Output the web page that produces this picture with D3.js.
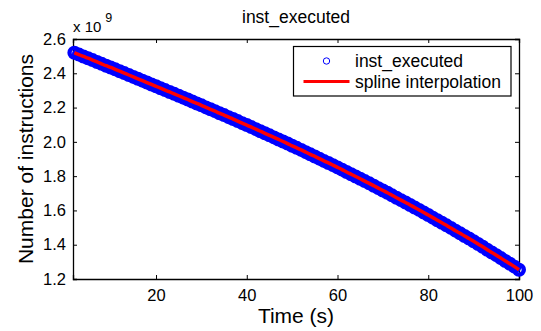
<!DOCTYPE html>
<html>
<head>
<meta charset="utf-8">
<script src="https://cdn.jsdelivr.net/npm/d3@7"></script>
<style>
  body { margin: 0; background: #fff; }
  text { font-family: "Liberation Sans", Arial, sans-serif; fill: #000; }
  .axis path, .axis line { stroke: #000; }
</style>
</head>
<body>
<svg id="chart" width="541" height="331"></svg>
<script>
// time in seconds, 2..100
const times = d3.range(2, 101);
// instructions executed (x 10^9)
const instExecuted = [
  2.520, 2.509, 2.498, 2.488, 2.477, 2.466, 2.455, 2.444, 2.434, 2.423,
  2.412, 2.401, 2.390, 2.379, 2.368, 2.357, 2.346, 2.335, 2.324, 2.313,
  2.302, 2.291, 2.280, 2.269, 2.258, 2.247, 2.235, 2.224, 2.213, 2.201,
  2.190, 2.179, 2.167, 2.156, 2.144, 2.133, 2.121, 2.109, 2.098, 2.086,
  2.074, 2.062, 2.050, 2.038, 2.026, 2.014, 2.002, 1.990, 1.977, 1.965,
  1.953, 1.940, 1.927, 1.915, 1.902, 1.889, 1.877, 1.864, 1.851, 1.838,
  1.824, 1.811, 1.798, 1.785, 1.771, 1.758, 1.744, 1.730, 1.716, 1.703,
  1.688, 1.674, 1.660, 1.646, 1.632, 1.617, 1.603, 1.588, 1.573, 1.558,
  1.543, 1.528, 1.513, 1.498, 1.482, 1.467, 1.451, 1.436, 1.420, 1.404,
  1.388, 1.371, 1.355, 1.339, 1.322, 1.305, 1.289, 1.272, 1.254
];
const xTicks = [20, 40, 60, 80, 100];
const yTicks = [1.2, 1.4, 1.6, 1.8, 2.0, 2.2, 2.4, 2.6];
const seriesNames = ['inst_executed', 'spline interpolation'];

const data = times.map((t, i) => ({ t: t, v: instExecuted[i] }));

const svg = d3.select('#chart');
const margin = { top: 39, right: 22, bottom: 52, left: 73 };
const width = +svg.attr('width') - margin.left - margin.right;
const height = +svg.attr('height') - margin.top - margin.bottom;

const x = d3.scaleLinear().domain([1.7, 100]).range([0, width]);
const y = d3.scaleLinear().domain([1.2, 2.6]).range([height, 0]);

const g = svg.append('g')
  .attr('transform', 'translate(' + margin.left + ',' + margin.top + ')');

// axes, ticks pointing inward like matlab
g.append('g')
  .attr('class', 'axis')
  .attr('transform', 'translate(0,' + height + ')')
  .call(d3.axisBottom(x).tickValues(xTicks).tickSize(-4).tickPadding(10.5))
  .call(a => a.selectAll('text').attr('font-size', 16.5));
g.append('g')
  .attr('class', 'axis')
  .call(d3.axisTop(x).tickValues(xTicks).tickSize(-4).tickFormat(''));
g.append('g')
  .attr('class', 'axis')
  .call(d3.axisLeft(y).tickValues(yTicks).tickSize(-4).tickPadding(7).tickFormat(d3.format('.1f')))
  .call(a => a.selectAll('text').attr('font-size', 16.5));
g.append('g')
  .attr('class', 'axis')
  .attr('transform', 'translate(' + width + ',0)')
  .call(d3.axisRight(y).tickValues(yTicks).tickSize(-4).tickFormat(''));
g.selectAll('.axis path').attr('stroke-width', 1.3);

// data markers
g.append('g')
  .selectAll('circle')
  .data(data)
  .join('circle')
  .attr('cx', d => x(d.t))
  .attr('cy', d => y(d.v))
  .attr('r', 4.8)
  .attr('fill', 'none')
  .attr('stroke', '#0000ff')
  .attr('stroke-width', 4.4);

// spline
const line = d3.line()
  .x(d => x(d.t))
  .y(d => y(d.v))
  .curve(d3.curveNatural);
g.append('path')
  .datum(data)
  .attr('fill', 'none')
  .attr('stroke', '#ff0000')
  .attr('stroke-width', 3.5)
  .attr('d', line);

// exponent label
const ex = svg.append('text').attr('x', margin.left).attr('y', 32).attr('font-size', 15);
ex.append('tspan').text('x 10');
ex.append('tspan').attr('dy', -10).attr('dx', 4).attr('font-size', 12.5).text('9');

// title and axis labels
svg.append('text')
  .attr('x', margin.left + width / 2).attr('y', 23)
  .attr('text-anchor', 'middle').attr('font-size', 17.5)
  .text('inst_executed');
svg.append('text')
  .attr('x', margin.left + width / 2).attr('y', 323)
  .attr('text-anchor', 'middle').attr('font-size', 21)
  .text('Time (s)');
svg.append('text')
  .attr('transform', 'translate(33,' + (margin.top + height / 2) + ') rotate(-90)')
  .attr('text-anchor', 'middle').attr('font-size', 21)
  .text('Number of instructions');

// legend
const lg = svg.append('g').attr('transform', 'translate(293.5,46.5)');
lg.append('rect')
  .attr('width', 217.5).attr('height', 49.5)
  .attr('fill', '#fff').attr('stroke', '#000').attr('stroke-width', 1.2);
lg.append('circle')
  .attr('cx', 33).attr('cy', 14.5).attr('r', 3.2)
  .attr('fill', 'none').attr('stroke', '#0000ff').attr('stroke-width', 1);
lg.append('line')
  .attr('x1', 10).attr('x2', 56).attr('y1', 35).attr('y2', 35)
  .attr('stroke', '#ff0000').attr('stroke-width', 3);
lg.selectAll('text.leg')
  .data(seriesNames)
  .join('text')
  .attr('class', 'leg')
  .attr('x', 61.5)
  .attr('y', (d, i) => 20.5 + i * 21)
  .attr('font-size', 17.5)
  .text(d => d);
</script>
</body>
</html>
